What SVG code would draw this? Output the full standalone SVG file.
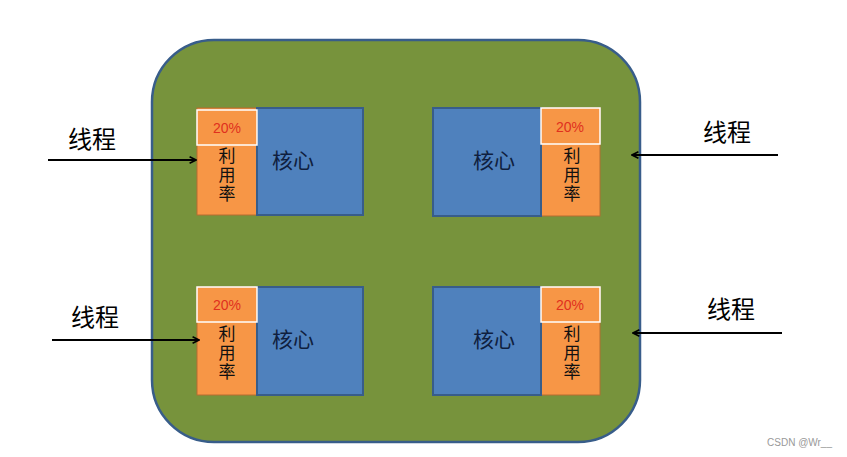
<svg xmlns="http://www.w3.org/2000/svg" width="847" height="457" viewBox="0 0 847 457">
<defs><marker id="ah" viewBox="0 0 10 10" refX="9" refY="5" markerWidth="8" markerHeight="8" orient="auto" markerUnits="userSpaceOnUse"><path d="M1,1 L9,5 L1,9" fill="none" stroke="#000" stroke-width="2"/></marker></defs>
<style>
.u{fill:#f79646;stroke:#b66d31;stroke-width:1}
.c{fill:#4f81bd;stroke:#385d8a;stroke-width:2}
.p{fill:#f79646;stroke:#fff;stroke-width:1.5}
.pt{font-family:"Liberation Sans",sans-serif;font-size:14px;fill:#e0301e;text-anchor:middle}
.ut{font-family:"Noto Sans CJK SC",sans-serif;font-size:17px;fill:#111;writing-mode:tb;glyph-orientation-vertical:0;letter-spacing:2px}
.ct{font-family:"Noto Sans CJK SC",sans-serif;font-size:21px;fill:#0f1f3f;text-anchor:middle}
.lt{font-family:"Noto Sans CJK SC",sans-serif;font-size:24px;fill:#000;text-anchor:middle}
.a{stroke:#000;stroke-width:2;marker-end:url(#ah)}
</style>
<rect width="847" height="457" fill="#fff"/>
<rect id="chip" x="152" y="40" width="488" height="402" rx="62" fill="#77933c" stroke="#385d8a" stroke-width="2.5"/>
<g id="n1"><rect class="u" x="197" y="108" width="60" height="107"/><rect class="c" x="257" y="108" width="106" height="107"/><rect class="p" x="197" y="110" width="60" height="35"/><text class="pt" x="227" y="133">20%</text><text class="ut" x="227" y="147">利用率</text><text class="ct" x="293" y="168">核心</text></g>
<g id="n2"><rect class="u" x="541" y="108" width="59" height="108"/><rect class="c" x="433" y="108" width="108" height="108"/><rect class="p" x="541" y="108" width="59" height="36"/><text class="pt" x="570" y="132">20%</text><text class="ut" x="572" y="147">利用率</text><text class="ct" x="494" y="168">核心</text></g>
<g id="n3"><rect class="u" x="197" y="287" width="60" height="108"/><rect class="c" x="257" y="287" width="106" height="108"/><rect class="p" x="197" y="287" width="60" height="35"/><text class="pt" x="227" y="310">20%</text><text class="ut" x="227" y="325">利用率</text><text class="ct" x="293" y="347">核心</text></g>
<g id="n4"><rect class="u" x="541" y="287" width="59" height="108"/><rect class="c" x="433" y="287" width="108" height="108"/><rect class="p" x="541" y="287" width="59" height="35"/><text class="pt" x="570" y="310">20%</text><text class="ut" x="572" y="325">利用率</text><text class="ct" x="494" y="347">核心</text></g>
<g id="connectors">
<line class="a" x1="48" y1="160" x2="196" y2="160"/>
<line class="a" x1="52" y1="340" x2="199" y2="340"/>
<line class="a" x1="778" y1="155" x2="632" y2="155"/>
<line class="a" x1="782" y1="333" x2="633" y2="333"/>
</g>
<text class="lt" x="92" y="148">线程</text>
<text class="lt" x="95" y="326">线程</text>
<text class="lt" x="727" y="141">线程</text>
<text class="lt" x="731" y="318">线程</text>
<text x="832" y="446" font-family="Liberation Sans,sans-serif" font-size="10" fill="#999" text-anchor="end">CSDN @Wr__</text>
</svg>
